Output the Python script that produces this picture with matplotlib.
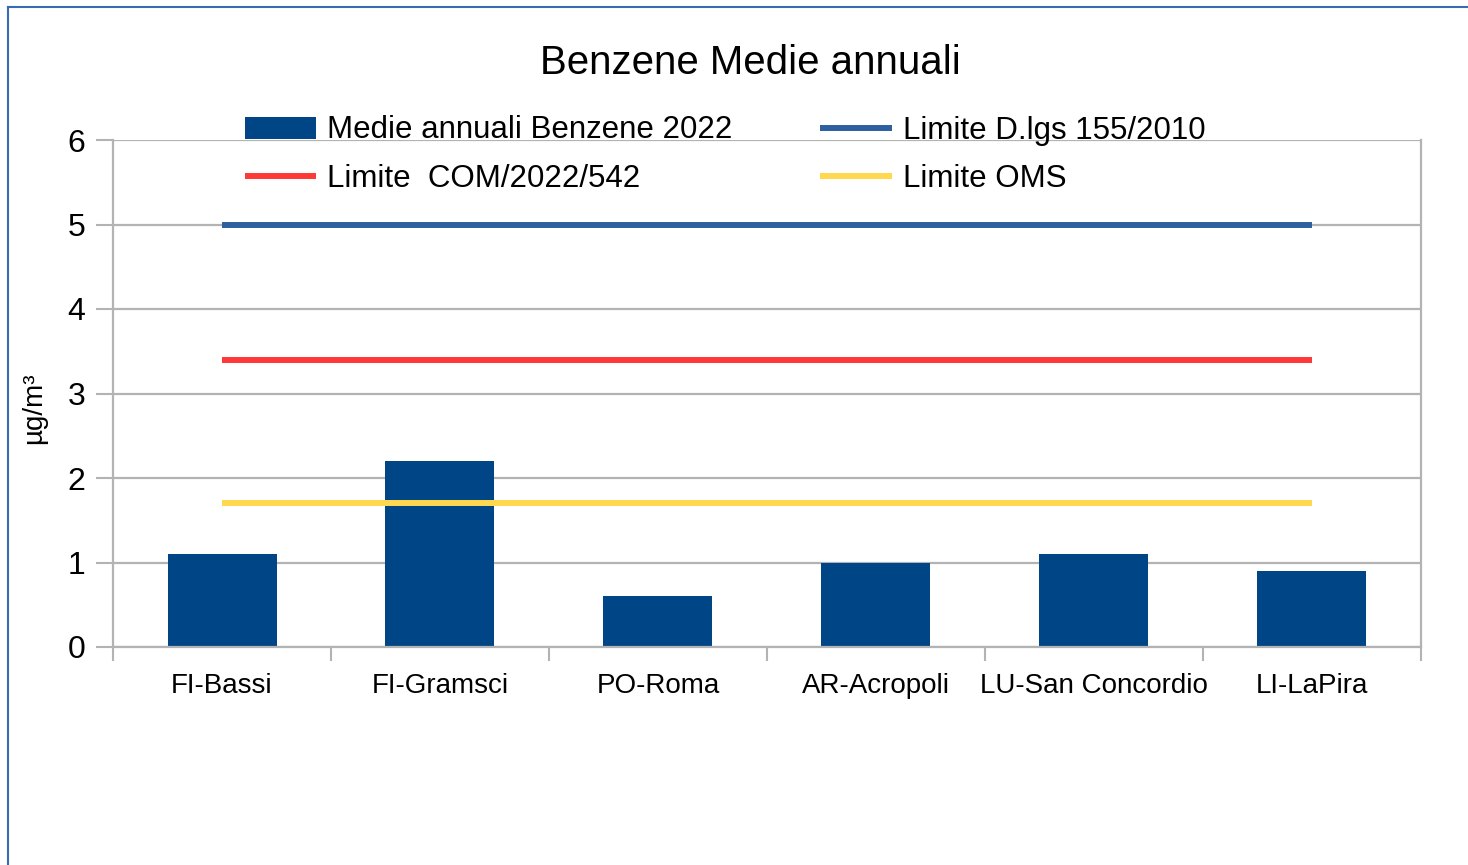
import numpy as np
import matplotlib.pyplot as plt
from matplotlib.lines import Line2D

plt.rcParams['font.family'] = ['Liberation Sans', 'DejaVu Sans']

stazioni = ['FI-Bassi', 'FI-Gramsci', 'PO-Roma', 'AR-Acropoli', 'LU-San Concordio', 'LI-LaPira']
medie_2022 = [1.1, 2.2, 0.6, 1.0, 1.1, 0.9]
limite_dlgs = [5.0, 5.0, 5.0, 5.0, 5.0, 5.0]
limite_com = [3.4, 3.4, 3.4, 3.4, 3.4, 3.4]
limite_oms = [1.7, 1.7, 1.7, 1.7, 1.7, 1.7]
yticks = [0, 1, 2, 3, 4, 5, 6]

bar_col = '#004586'
blue_col = '#2f5f9e'
red_col = '#ff3838'
yellow_col = '#ffd84f'
grid_col = '#b3b3b3'

fig = plt.figure(figsize=(14.68, 8.65), dpi=100)
ax = fig.add_axes([113/1468, 1-647/865, (1421-113)/1468, (647-140)/865])

x = np.arange(len(stazioni))
bars = ax.bar(x, medie_2022, width=0.5, color=bar_col, zorder=2)
l1, = ax.plot(x, limite_dlgs, color=blue_col, lw=4.3, solid_capstyle='butt', zorder=3)
l2, = ax.plot(x, limite_com, color=red_col, lw=4.3, solid_capstyle='butt', zorder=3)
l3, = ax.plot(x, limite_oms, color=yellow_col, lw=4.3, solid_capstyle='butt', zorder=3)

ax.set_xlim(-0.5, len(stazioni) - 0.5)
ax.set_ylim(0, 6)
ax.set_yticks(yticks)
ax.set_yticklabels([str(v) for v in yticks], fontsize=23)
ax.set_xticks(x)
ax.set_xticklabels(stazioni, fontsize=20)
ax.set_xticks(np.arange(-0.5, len(stazioni)), minor=True)
ax.tick_params(axis='x', which='major', length=0, pad=19)
ax.tick_params(axis='x', which='minor', length=10, width=1.5, color=grid_col, direction='out')
ax.tick_params(axis='y', length=12, width=1.5, color=grid_col, pad=8)
ax.grid(axis='y', color=grid_col, lw=1.6, zorder=0)
for s in ax.spines.values():
    s.set_color(grid_col)
    s.set_linewidth(1.6)
ax.spines['top'].set_visible(False)

ax.set_ylabel('µg/m³', fontsize=20)
ax.yaxis.set_label_coords(-0.05, 0.47)

fig.text(750/1468, 1-63/865, 'Benzene Medie annuali', fontsize=29, ha='center', va='center')

handles = [bars, l2, l1, l3]
labels = ['Medie annuali Benzene 2022', 'Limite  COM/2022/542', 'Limite D.lgs 155/2010', 'Limite OMS']
fig.legend(handles, labels, ncol=2, loc='upper left', bbox_to_anchor=(232/1468, 1-103/865),
           frameon=False, fontsize=22.5, handlelength=2.3, handletextpad=0.35,
           columnspacing=2.8, labelspacing=0.6, borderaxespad=0)

# outer frame (LibreOffice style)
fig.add_artist(Line2D([8/1468, 8/1468], [0, 1-7/865], color='#3a6bb0', lw=1.5, transform=fig.transFigure))
fig.add_artist(Line2D([8/1468, 1], [1-7/865, 1-7/865], color='#3a6bb0', lw=1.5, transform=fig.transFigure))

fig.savefig('out.png', dpi=100)
